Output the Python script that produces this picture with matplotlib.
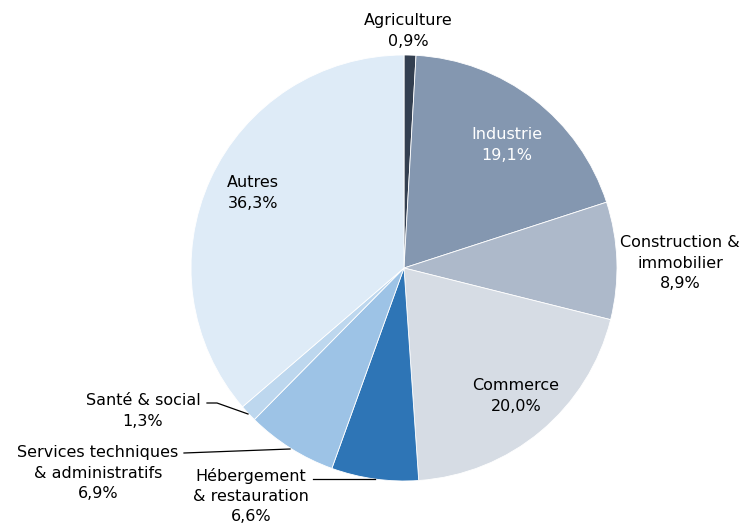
import numpy as np
import matplotlib
matplotlib.use('Agg')
import matplotlib.pyplot as plt

secteurs = ['Agriculture', 'Industrie', 'Construction &\nimmobilier', 'Commerce',
            'Hébergement\n& restauration', 'Services techniques\n& administratifs',
            'Santé & social', 'Autres']
parts = [0.9, 19.1, 8.9, 20.0, 6.6, 6.9, 1.3, 36.3]
couleurs = ['#333F50', '#8497B0', '#ADB9CA', '#D6DCE4',
            '#2E75B6', '#9DC3E6', '#BDD7EE', '#DEEBF7']

# label centres in pixels (x, y from top)
pos_labels = [(408, 31), (507, 145), (680, 263), (516, 396),
              (251, 496), (98, 473), (143, 411), (253, 193)]
couleur_txt = ['#000000', '#FFFFFF', '#000000', '#000000',
               '#000000', '#000000', '#000000', '#000000']

W, H = 745, 529
fig = plt.figure(figsize=(7.45, 5.29), dpi=100)
ax = fig.add_axes([0, 0, 1, 1])

cx, cy, r = 404, H - 268, 213
ax.pie(parts, colors=couleurs, startangle=90, counterclock=False,
       center=(cx, cy), radius=r, frame=True,
       wedgeprops=dict(edgecolor='white', linewidth=0.6))
ax.set_xlim(0, W)
ax.set_ylim(0, H)
ax.set_aspect('equal')
ax.axis('off')

for nom, val, (x, y), c in zip(secteurs, parts, pos_labels, couleur_txt):
    txt = nom + '\n' + ('%.1f' % val).replace('.', ',') + '%'
    ax.text(x, H - y, txt, ha='center', va='center', fontsize=11.5,
            color=c, linespacing=1.42)

# leader lines
ax.plot([207, 217, 248], [H - 403, H - 403, H - 414], color='black', lw=0.9)
ax.plot([184, 290], [H - 453, H - 449], color='black', lw=0.9)
ax.plot([313, 375], [H - 479, H - 479], color='black', lw=0.9)

plt.savefig('out.png', dpi=100)
